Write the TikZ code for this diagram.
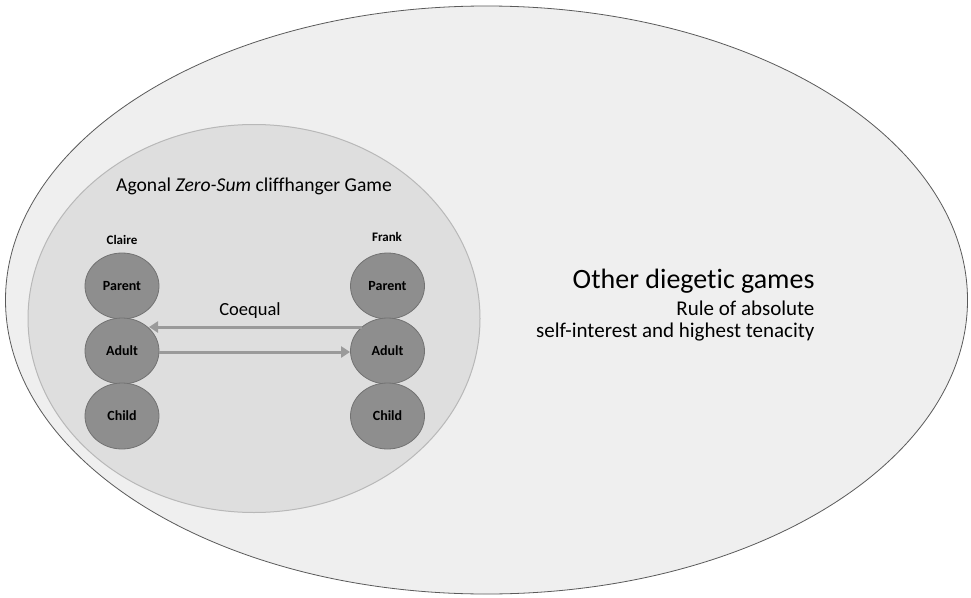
\documentclass[tikz,border=0pt]{standalone}
\usepackage{fontspec}
\setmainfont[Ligatures=NoCommon]{Carlito}
\usetikzlibrary{arrows.meta,shapes.geometric}
\definecolor{outerfill}{HTML}{EFEFEF}
\definecolor{outerline}{HTML}{5A5A5A}
\definecolor{innerfill}{HTML}{DEDEDE}
\definecolor{innerline}{HTML}{B8B8B8}
\definecolor{egofill}{HTML}{8E8E8E}
\definecolor{egoline}{HTML}{727272}
\definecolor{arrowcol}{HTML}{9A9A9A}
\tikzset{
  ego/.style={ellipse, draw=egoline, fill=egofill, line width=0.8pt, minimum width=74pt, minimum height=66pt, inner sep=0pt, font=\bfseries\fontsize{14}{16}\selectfont},
  person/.style={font=\bfseries\fontsize{13}{15}\selectfont},
  flow/.style={draw=arrowcol, line width=3pt, -{Triangle[length=9pt,width=11pt]}},
}
\begin{document}
\begin{tikzpicture}[x=1pt,y=-1pt]
\useasboundingbox (0,0) rectangle (971,597);
\fill[white] (0,0) rectangle (971,597);
\draw[fill=outerfill, draw=outerline, line width=0.8pt] (486.5,300) ellipse [x radius=481, y radius=294];
\draw[fill=innerfill, draw=innerline, line width=1pt] (254,318.5) ellipse [x radius=226, y radius=194];
\node[font=\fontsize{19.6}{24}\selectfont] (title) at (254,186) {Agonal \textit{Zero-Sum} cliffhanger Game};
\node[person] (claire) at (122,240) {Claire};
\node[person] (frank) at (387,237) {Frank};
\node[ego] (cp) at (122,286) {Parent};
\node[ego] (ca) at (122,351) {Adult};
\node[ego] (cc) at (122,416) {Child};
\node[ego] (fp) at (387.5,286) {Parent};
\node[ego] (fa) at (387.5,351) {Adult};
\node[ego] (fc) at (387.5,416) {Child};
\node[font=\fontsize{18.5}{22}\selectfont] (coequal) at (250,311) {Coequal};
\coordinate (fs) at (362,327);
\coordinate (ce) at (149,327);
\draw[flow] (fs) -- (ce);
\draw[flow] (ca.east |- 0,352) -- (fa.west |- 0,352);
\node[anchor=east, align=right, font=\fontsize{28}{32}\selectfont] (other) at (818,281) {Other diegetic games};
\node[anchor=east, align=right, font=\fontsize{21}{22.5}\selectfont] (rule) at (818,321) {Rule of absolute\\self-interest and highest tenacity};
\end{tikzpicture}
\end{document}
